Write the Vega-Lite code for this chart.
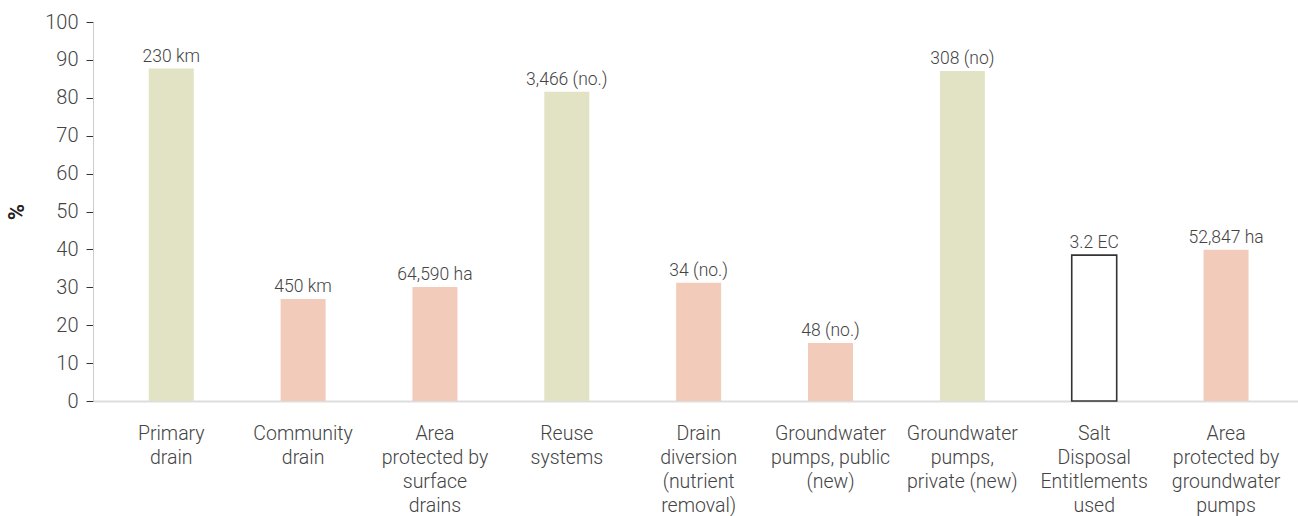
{
  "$schema": "https://vega.github.io/schema/vega-lite/v6.json",
  "autosize": {"type": "none"},
  "padding": {"left": 93, "top": 22, "right": 0, "bottom": 115},
  "width": 1205,
  "height": 379,
  "config": {
    "view": {"stroke": null},
    "font": "Roboto",
    "axis": {"labelFont": "Roboto", "titleFont": "Roboto"}
  },
  "data": {
    "values": [
      {"item": "Primary|drain", "pct": 87.7, "group": "drain", "label": "230 km"},
      {"item": "Community|drain", "pct": 26.9, "group": "protect", "label": "450 km"},
      {"item": "Area|protected by|surface|drains", "pct": 30.1, "group": "protect", "label": "64,590 ha"},
      {"item": "Reuse|systems", "pct": 81.6, "group": "drain", "label": "3,466 (no.)"},
      {"item": "Drain|diversion|(nutrient|removal)", "pct": 31.2, "group": "protect", "label": "34 (no.)"},
      {"item": "Groundwater|pumps, public|(new)", "pct": 15.3, "group": "protect", "label": "48 (no.)"},
      {"item": "Groundwater|pumps,|private (new)", "pct": 87.1, "group": "drain", "label": "308 (no)"},
      {"item": "Salt|Disposal|Entitlements|used", "pct": 38.5, "group": "salt", "label": "3.2 EC"},
      {"item": "Area|protected by|groundwater|pumps", "pct": 39.9, "group": "protect", "label": "52,847 ha"}
    ]
  },
  "encoding": {
    "x": {
      "field": "item",
      "type": "nominal",
      "sort": null,
      "scale": {"paddingInner": 0.659, "paddingOuter": 0.399, "align": 0.53},
      "axis": {
        "title": null,
        "labelAngle": 0,
        "labelExpr": "split(datum.value, '|')",
        "labelFontSize": 19.5,
        "labelFontWeight": 300,
        "labelColor": "#444444",
        "labelLineHeight": 24,
        "labelPadding": 23,
        "labelBaseline": "top",
        "ticks": false,
        "domainColor": "#dddddd",
        "domainWidth": 2
      }
    },
    "y": {
      "field": "pct",
      "type": "quantitative",
      "scale": {"domain": [0, 100], "nice": false},
      "axis": {
        "title": "%",
        "titleFontSize": 22,
        "titleFontWeight": "bold",
        "titleColor": "#222222",
        "titlePadding": 16,
        "values": [0, 10, 20, 30, 40, 50, 60, 70, 80, 90, 100],
        "grid": false,
        "tickSize": 7,
        "tickColor": "#333333",
        "domainColor": "#cccccc",
        "labelFontSize": 20,
        "labelFontWeight": 300,
        "labelColor": "#444444",
        "labelPadding": 8
      }
    }
  },
  "layer": [
    {
      "mark": {"type": "bar", "strokeWidth": 1.6},
      "encoding": {
        "fill": {
          "field": "group",
          "type": "nominal",
          "scale": {"domain": ["drain", "protect", "salt"], "range": ["#e2e2c4", "#f2cbba", "#ffffff"]},
          "legend": null
        },
        "stroke": {
          "field": "group",
          "type": "nominal",
          "scale": {"domain": ["drain", "protect", "salt"], "range": ["transparent", "transparent", "#333333"]},
          "legend": null
        }
      }
    },
    {
      "mark": {"type": "text", "baseline": "alphabetic", "dy": -7, "fontSize": 17.5, "fontWeight": 300, "color": "#444444"},
      "encoding": {"text": {"field": "label"}}
    }
  ]
}
